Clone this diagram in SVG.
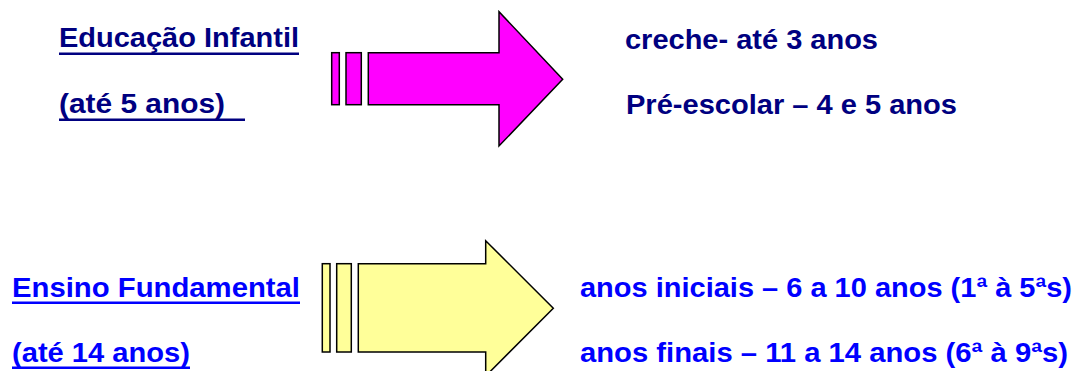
<svg xmlns="http://www.w3.org/2000/svg" width="1079" height="371" viewBox="0 0 1079 371">
<style>
.t{font-family:"Liberation Sans",Arial,sans-serif;font-weight:bold;font-size:27px}
.navy{fill:#000080}
.blue{fill:#0000FF}
.sh{stroke:#000;stroke-width:1.5;stroke-linejoin:miter}
.mag{fill:#FF00FF}
.yel{fill:#FFFF99}
</style>
<rect width="1079" height="371" fill="#fff"/>
<g id="edu-infantil">
<text class="t navy" x="59" y="47" textLength="240" lengthAdjust="spacingAndGlyphs">Educação Infantil</text>
<rect x="59" y="52.5" width="240" height="2.5" fill="#000080"/>
<text class="t navy" x="59" y="113" textLength="166" lengthAdjust="spacingAndGlyphs">(até 5 anos)</text>
<rect x="59" y="118.5" width="186" height="2.5" fill="#000080"/>
</g>
<g id="arrow-top">
<rect class="sh mag" x="331.7" y="52.7" width="7.6" height="52"/>
<rect class="sh mag" x="346" y="52.7" width="15.3" height="52"/>
<path class="sh mag" d="M368.3,52.7 H499 V11.7 L562.7,79.3 L499,146 V104.7 H368.3 Z"/>
</g>
<g id="infantil-detail">
<text class="t navy" x="625" y="49" textLength="253" lengthAdjust="spacingAndGlyphs">creche- até 3 anos</text>
<text class="t navy" x="626" y="114" textLength="331" lengthAdjust="spacingAndGlyphs">Pré-escolar – 4 e 5 anos</text>
</g>
<g id="ensino-fundamental">
<text class="t blue" x="12" y="297" textLength="288" lengthAdjust="spacingAndGlyphs">Ensino Fundamental</text>
<rect x="12" y="301.5" width="288" height="2.5" fill="#0000FF"/>
<text class="t blue" x="12" y="362" textLength="178" lengthAdjust="spacingAndGlyphs">(até 14 anos)</text>
<rect x="12" y="366.5" width="178" height="2.5" fill="#0000FF"/>
</g>
<g id="arrow-bottom">
<rect class="sh yel" x="322.3" y="263.7" width="7.7" height="88.3"/>
<rect class="sh yel" x="336.7" y="263.7" width="14.6" height="88.3"/>
<path class="sh yel" d="M358.3,263.7 H485.7 V240.7 L553.3,308.3 L485.7,376 V352 H358.3 Z"/>
</g>
<g id="fundamental-detail">
<text class="t blue" x="580" y="297" textLength="492" lengthAdjust="spacingAndGlyphs">anos iniciais – 6 a 10 anos (1ª à 5ªs)</text>
<text class="t blue" x="580" y="362" textLength="488" lengthAdjust="spacingAndGlyphs">anos finais – 11 a 14 anos (6ª à 9ªs)</text>
</g>
</svg>
